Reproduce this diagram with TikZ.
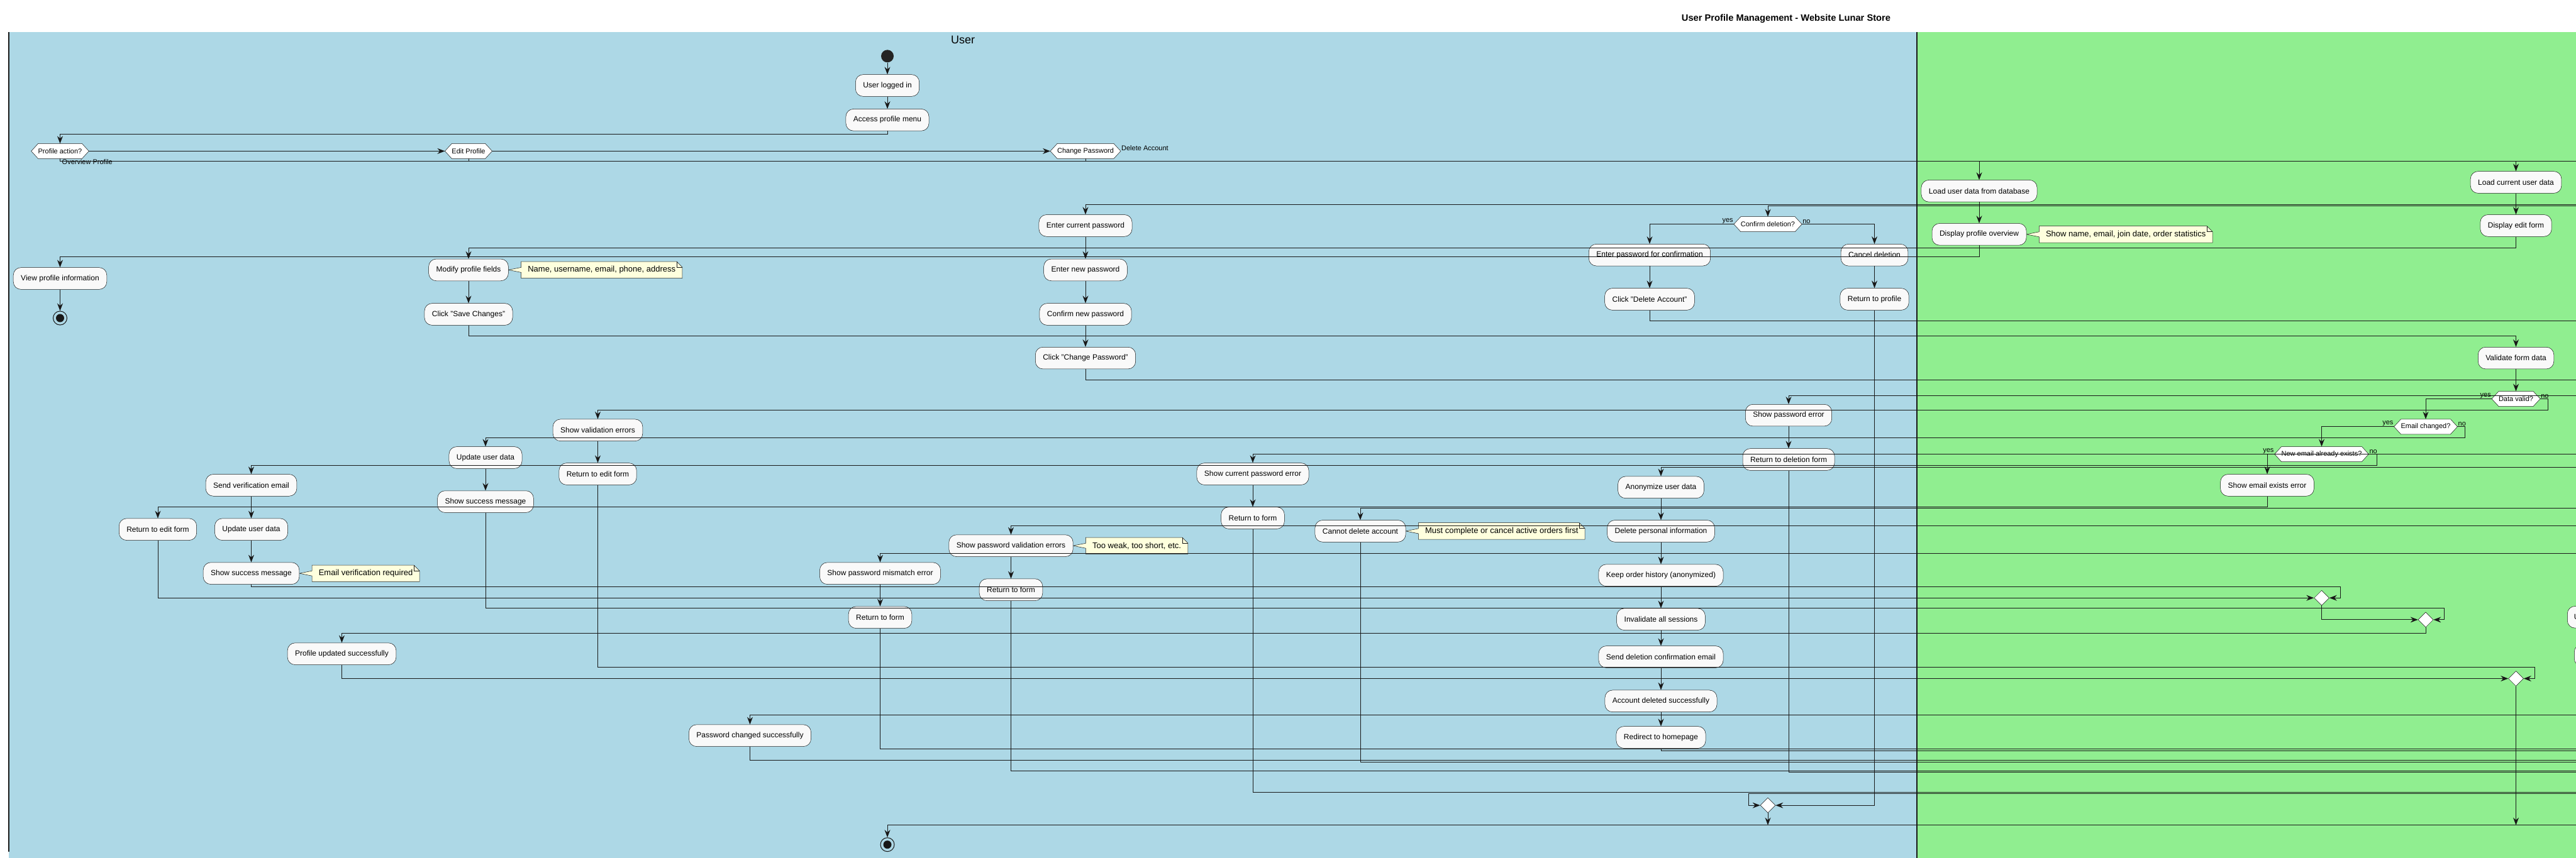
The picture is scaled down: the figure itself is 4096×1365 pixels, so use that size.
\documentclass[tikz,border=0pt]{standalone}
\usepackage{fontspec}
\setmainfont{Liberation Sans}
\usetikzlibrary{arrows.meta,shapes.geometric,positioning}
\definecolor{lanebl}{HTML}{ADD8E6}
\definecolor{lanegr}{HTML}{90EE90}
\definecolor{ink}{HTML}{181818}
\definecolor{actfill}{HTML}{F9F9F9}
\definecolor{notefill}{HTML}{FEFFDD}
\pgfdeclarelayer{lanes}
\pgfdeclarelayer{shapes}
\pgfsetlayers{lanes,shapes,main}

\begin{document}
\begin{tikzpicture}[x=1pt, y=-1pt,
        act/.style={draw=ink, line width=0.5pt, fill=actfill, rounded corners=12pt,
            font=\fontsize{12}{14}\selectfont, inner xsep=12pt, minimum height=34.7pt},
        choice/.style={font=\fontsize{11}{13}\selectfont, inner xsep=0pt, inner ysep=0pt,
            minimum height=24pt, outer xsep=11pt, outer ysep=0pt},
        hexline/.style={draw=ink, line width=0.5pt, fill=white},
        notebox/.style={font=\fontsize{13}{15}\selectfont, inner xsep=10.5pt, minimum height=26pt},
        noteline/.style={draw=ink, line width=0.5pt},
        lbl/.style={font=\fontsize{11}{13}\selectfont, inner sep=1pt},
        mergept/.style={diamond, draw=ink, line width=0.5pt, fill=white, inner sep=0pt,
            minimum width=24pt, minimum height=24pt},
        startdot/.style={circle, fill=ink!95, inner sep=0pt, minimum size=20pt},
        enddot/.style={circle, draw=ink, line width=1pt, inner sep=0pt, minimum size=22pt,
            path picture={\fill[ink] (path picture bounding box.center) circle (6.5pt);}},
        flow/.style={draw=ink, line width=1pt, -{Stealth[length=12pt, width=9pt, inset=4pt]}},
        wire/.style={draw=ink, line width=1pt}]
        \useasboundingbox (0,0) rectangle (4096,1365);

        % lanes
        \begin{pgfonlayer}{lanes}
        \fill[lanebl] (14,51) rectangle (3048,1365);
        \fill[lanegr] (3048,51) rectangle (4096,1365);
        \draw[ink, line width=1.5pt] (14,51) -- (14,1355);
        \draw[ink, line width=2pt] (3048,51) -- (3048,1365);
        \end{pgfonlayer}
        \node[font=\bfseries\fontsize{14.7}{17}\selectfont] (title) at (2840,30) {User Profile Management - Website Lunar Store};
        \node[font=\fontsize{18}{21}\selectfont] (laneuser) at (1531,63) {User};

        % user: start
        \node[startdot] (start) at (1411,89.3) {};
        \node[act] (logged) at (1411,136) {User logged in};
        \node[act] (menu) at (1411,190.8) {Access profile menu};
        \node[choice] (pa) at (95.5,240.4) {Profile action?};
        \node[choice] (edit) at (745,240.4) {Edit Profile};
        \node[choice] (chpw) at (1726,240.4) {Change Password};
        \node[lbl, anchor=north west] (lovw) at ([xshift=2pt]pa.south) {Overview Profile};
        \node[lbl, anchor=south west] (ldel) at (chpw.east) {Delete Account};

        % user: overview and edit
        \node[act] (view) at (95.5,443) {View profile information};
        \node[enddot] (stop1) at (95.5,506) {};
        \node[act] (modify) at (745,429.4) {Modify profile fields};
        \node[notebox, right=20pt of modify] (nfields) {Name, username, email, phone, address};
        \node[act] (save) at (745,500) {Click "Save Changes"};
        \node[act] (valerr) at (950.5,684.3) {Show validation errors};
        \node[act] (retedit1) at (950.5,754) {Return to edit form};
        \node[act] (upd1) at (772,728) {Update user data};
        \node[act] (succ1) at (772,798.1) {Show success message};
        \node[act] (sendver) at (399.5,771.9) {Send verification email};
        \node[act] (upd2) at (399.5,842.2) {Update user data};
        \node[act] (succ2) at (399.5,912.2) {Show success message};
        \node[notebox, right=20pt of succ2] (nverify) {Email verification required};
        \node[act] (retedit2) at (251,842.2) {Return to edit form};
        \node[act] (profok) at (543.5,1040.2) {Profile updated successfully};

        % user: password
        \node[act] (entercur) at (1726,358.9) {Enter current password};
        \node[act] (enternew) at (1726,429.4) {Enter new password};
        \node[act] (confnew) at (1726,500) {Confirm new password};
        \node[act] (clickpw) at (1726,569.6) {Click "Change Password"};
        \node[act] (curpwerr) at (1992,754) {Show current password error};
        \node[act] (retform1) at (1992,824) {Return to form};
        \node[act] (pwvalerr) at (1607.5,868.2) {Show password validation errors};
        \node[notebox, right=20pt of pwvalerr] (nweak) {Too weak, too short, etc.};
        \node[act] (retform2) at (1607.5,938.2) {Return to form};
        \node[act] (mismatch) at (1399.5,912.2) {Show password mismatch error};
        \node[act] (retform3) at (1399.5,982.2) {Return to form};
        \node[act] (pwok) at (1192.5,1170.2) {Password changed successfully};
        \node[enddot] (stop2) at (1411,1343.7) {};

        % user: delete
        \node[choice] (confirmdel) at (2811,356.7) {Confirm deletion?};
        \node[lbl, anchor=south east] (lyes1) at (confirmdel.west) {yes};
        \node[lbl, anchor=south west] (lno1) at (confirmdel.east) {no};
        \node[act] (enterconf) at (2623,405.7) {Enter password for confirmation};
        \node[act] (canceldel) at (2980.5,405.7) {Cancel deletion};
        \node[act] (clickdel) at (2623,476) {Click "Delete Account"};
        \node[act] (retprof) at (2980.5,476) {Return to profile};
        \node[act] (pwerr) at (2844,660.6) {Show password error};
        \node[act] (retdelform) at (2844,731) {Return to deletion form};
        \node[act] (anon) at (2641,775.3) {Anonymize user data};
        \node[act] (delinfo) at (2641,844.9) {Delete personal information};
        \node[act] (keep) at (2641,915.2) {Keep order history (anonymized)};
        \node[act] (invalidate) at (2641,985.2) {Invalidate all sessions};
        \node[act] (senddel) at (2641,1045) {Send deletion confirmation email};
        \node[act] (delok) at (2641,1115.3) {Account deleted successfully};
        \node[act] (redirect) at (2641,1173) {Redirect to homepage};
        \node[act] (cannotdel) at (2163,844.9) {Cannot delete account};
        \node[notebox, right=20pt of cannotdel] (norders) {Must complete or cancel active orders first};
        \node[mergept] (merge4) at (2811,1281.2) {};

        % system
        \node[act] (loaddb) at (3147,303.8) {Load user data from database};
        \node[act] (overview) at (3147,372.8) {Display profile overview};
        \node[notebox, right=20pt of overview] (nstats) {Show name, email, join date, order statistics};
        \node[act] (loadcur) at (4000.5,290) {Load current user data};
        \node[act] (editform) at (4000.5,358.9) {Display edit form};
        \node[act] (validate) at (4000.5,569.6) {Validate form data};
        \node[choice] (valid) at (4000.5,634.5) {Data valid?};
        \node[lbl, anchor=south east] (lyes2) at (valid.west) {yes};
        \node[lbl, anchor=south west] (lno2) at (valid.east) {no};
        \node[choice] (emailch) at (3857,678.8) {Email changed?};
        \node[lbl, anchor=south east] (lyes3) at (emailch.west) {yes};
        \node[lbl, anchor=south west] (lno3) at (emailch.east) {no};
        \node[choice] (exists) at (3691.5,722.5) {New email already exists?};
        \node[lbl, anchor=south east] (lyes4) at (exists.west) {yes};
        \node[lbl, anchor=south west] (lno4) at (exists.east) {no};
        \node[act] (emailerr) at (3605,771.9) {Show email exists error};
        \node[mergept] (merge1) at (3691.5,951.2) {};
        \node[mergept] (merge2) at (3857,985.9) {};
        \node[mergept] (merge3) at (4000.5,1079.5) {};
        \node[act, anchor=west, inner xsep=10.5pt] (cutA) at (4082,981.8) {U};
        \node[act, anchor=west, minimum width=40pt] (cutB) at (4093,1042.5) {};

        % hexagons and notes
        \begin{pgfonlayer}{shapes}
        \foreach \h in {pa,edit,chpw,confirmdel,valid,emailch,exists}
            \draw[hexline] (\h.west) -- ([xshift=11pt]\h.north west) -- ([xshift=-11pt]\h.north east)
                -- (\h.east) -- ([xshift=-11pt]\h.south east) -- ([xshift=11pt]\h.south west) -- cycle;
        \foreach \n/\t in {nfields/modify,nverify/succ2,nweak/pwvalerr,norders/cannotdel,nstats/overview} {
            \draw[noteline, fill=notefill] (\n.north west) -- ([xshift=-9pt]\n.north east)
                -- ([yshift=-9pt]\n.north east) -- (\n.south east) -- (\n.south west)
                -- ([yshift=-4pt]\n.west) -- (\t.east) -- ([yshift=4pt]\n.west) -- cycle;
            \draw[noteline] ([xshift=-9pt]\n.north east) |- ([yshift=-9pt]\n.north east);
        }
        \end{pgfonlayer}

        % ends of the lines that leave the picture
        \foreach \n/\y in {oProfile/256,oCurPw/325.3,oConfirm/327.5,oDelClick/510.8,oPwClick/604,
                oPwErr/629.3,oCurErr/722.1,oAnon/743.2,oCannot/808.8,oPwVal/836.2,oMismatch/880.5,
                oPwOk/1137.9,oRet3/1191.8,oRedirect/1194,oPwOkOut/1209.6,oCannotOut/1212.3,
                oRet2/1226,oRetDel/1228.7,oRet1/1260.2,oMerge/1262.9,oEnd/1312.7}
            \coordinate (\n) at (4110,\y);

        % flow: start
        \draw[flow] (start) -- (logged);
        \draw[flow] (logged) -- (menu);
        \draw[flow] (menu.south) -- (menu.south |- 0,213.4) -| (pa.north);
        \draw[flow] (pa.east) -- (edit.west);
        \draw[flow] (edit.east) -- (chpw.west);
        \draw[wire] (pa.south) |- (oProfile);
        \draw[wire] (edit.south) |- (oProfile);
        \draw[wire] (chpw.south) |- (oProfile);
        \draw[flow] (oProfile) -| (loaddb.north);
        \draw[flow] (oProfile) -| (loadcur.north);

        % flow: overview
        \draw[flow] (loaddb) -- (overview);
        \draw[flow] (overview.south) -- (overview.south |- 0,408) -| (view.north);
        \draw[flow] (view) -- (stop1);

        % flow: edit
        \draw[flow] (loadcur) -- (editform);
        \draw[flow] (editform.south) -- (editform.south |- 0,394.6) -| (modify.north);
        \draw[flow] (modify) -- (save);
        \draw[flow] (save.south) -- (save.south |- 0,534) -| (validate.north);
        \draw[flow] (validate) -- (valid);
        \draw[flow] (valid.west) -| (emailch.north);
        \draw[flow] (valid.east) -- ++(12,0) |- (valerr.north |- 0,652) -- (valerr.north);
        \draw[flow] (valerr) -- (retedit1);
        \draw[flow] (retedit1.south) |- (4030,1061.7) |- (merge3.east);
        \draw[flow] (emailch.west) -| (exists.north);
        \draw[flow] (emailch.east) -- ++(12.5,0) -- ++(0,17.3) -| (upd1.north);
        \draw[flow] (upd1) -- (succ1);
        \draw[flow] (succ1.south) |- (3886.5,967.2) |- (merge2.east);
        \draw[flow] (exists.west) -| (emailerr.north);
        \draw[flow] (exists.east) -- ++(13,0) -- ++(0,17.9) -| (sendver.north);
        \draw[flow] (emailerr.south) -- ++(0,17.3) -| (retedit2.north);
        \draw[flow] (sendver) -- (upd2);
        \draw[flow] (upd2) -- (succ2);
        \draw[flow] (succ2.south) |- (3721,933.4) |- (merge1.east);
        \draw[flow] (retedit2.south) |- (merge1.west);
        \draw[flow] (merge1.south) |- (merge2.west);
        \draw[flow] (merge2.south) -- ++(0,9.5) -| (profok.north);
        \draw[flow] (profok.south) |- (merge3.west);
        \draw[flow] (merge3.south) -- (merge3.south |- oEnd);

        % flow: password
        \draw[flow] (oCurPw) -| (entercur.north);
        \draw[flow] (entercur) -- (enternew);
        \draw[flow] (enternew) -- (confnew);
        \draw[flow] (confnew) -- (clickpw);
        \draw[wire] (clickpw.south) |- (oPwClick);
        \draw[flow] (oCurErr) -| (curpwerr.north);
        \draw[flow] (curpwerr) -- (retform1);
        \draw[wire] (retform1.south) |- (oRet1);
        \draw[flow] (oPwVal) -| (pwvalerr.north);
        \draw[flow] (pwvalerr) -- (retform2);
        \draw[wire] (retform2.south) |- (oRet2);
        \draw[flow] (oMismatch) -| (mismatch.north);
        \draw[flow] (mismatch) -- (retform3);
        \draw[wire] (retform3.south) |- (oRet3);
        \draw[flow] (oPwOk) -| (pwok.north);
        \draw[wire] (pwok.south) |- (oPwOkOut);

        % flow: delete
        \draw[flow] (oConfirm) -| (confirmdel.north);
        \draw[flow] (confirmdel.west) -| (enterconf.north);
        \draw[flow] (confirmdel.east) -| (canceldel.north);
        \draw[flow] (enterconf) -- (clickdel);
        \draw[flow] (canceldel) -- (retprof);
        \draw[wire] (clickdel.south) |- (oDelClick);
        \draw[flow] (retprof.south) |- (merge4.east);
        \draw[flow] (oMerge) -| ([xshift=-18pt]merge4.west) -- (merge4.west);
        \draw[flow] (merge4.south) -- (merge4.south |- oEnd);
        \draw[flow] (oPwErr) -| (pwerr.north);
        \draw[flow] (pwerr) -- (retdelform);
        \draw[wire] (retdelform.south) |- (oRetDel);
        \draw[flow] (oAnon) -| (anon.north);
        \draw[flow] (anon) -- (delinfo);
        \draw[flow] (delinfo) -- (keep);
        \draw[flow] (keep) -- (invalidate);
        \draw[flow] (invalidate) -- (senddel);
        \draw[flow] (senddel) -- (delok);
        \draw[flow] (delok) -- (redirect);
        \draw[wire] (redirect.south) |- (oRedirect);
        \draw[flow] (oCannot) -| (cannotdel.north);
        \draw[wire] (cannotdel.south) |- (oCannotOut);

        % end
        \draw[flow] (oEnd) -| (stop2.north);
\end{tikzpicture}
\end{document}
